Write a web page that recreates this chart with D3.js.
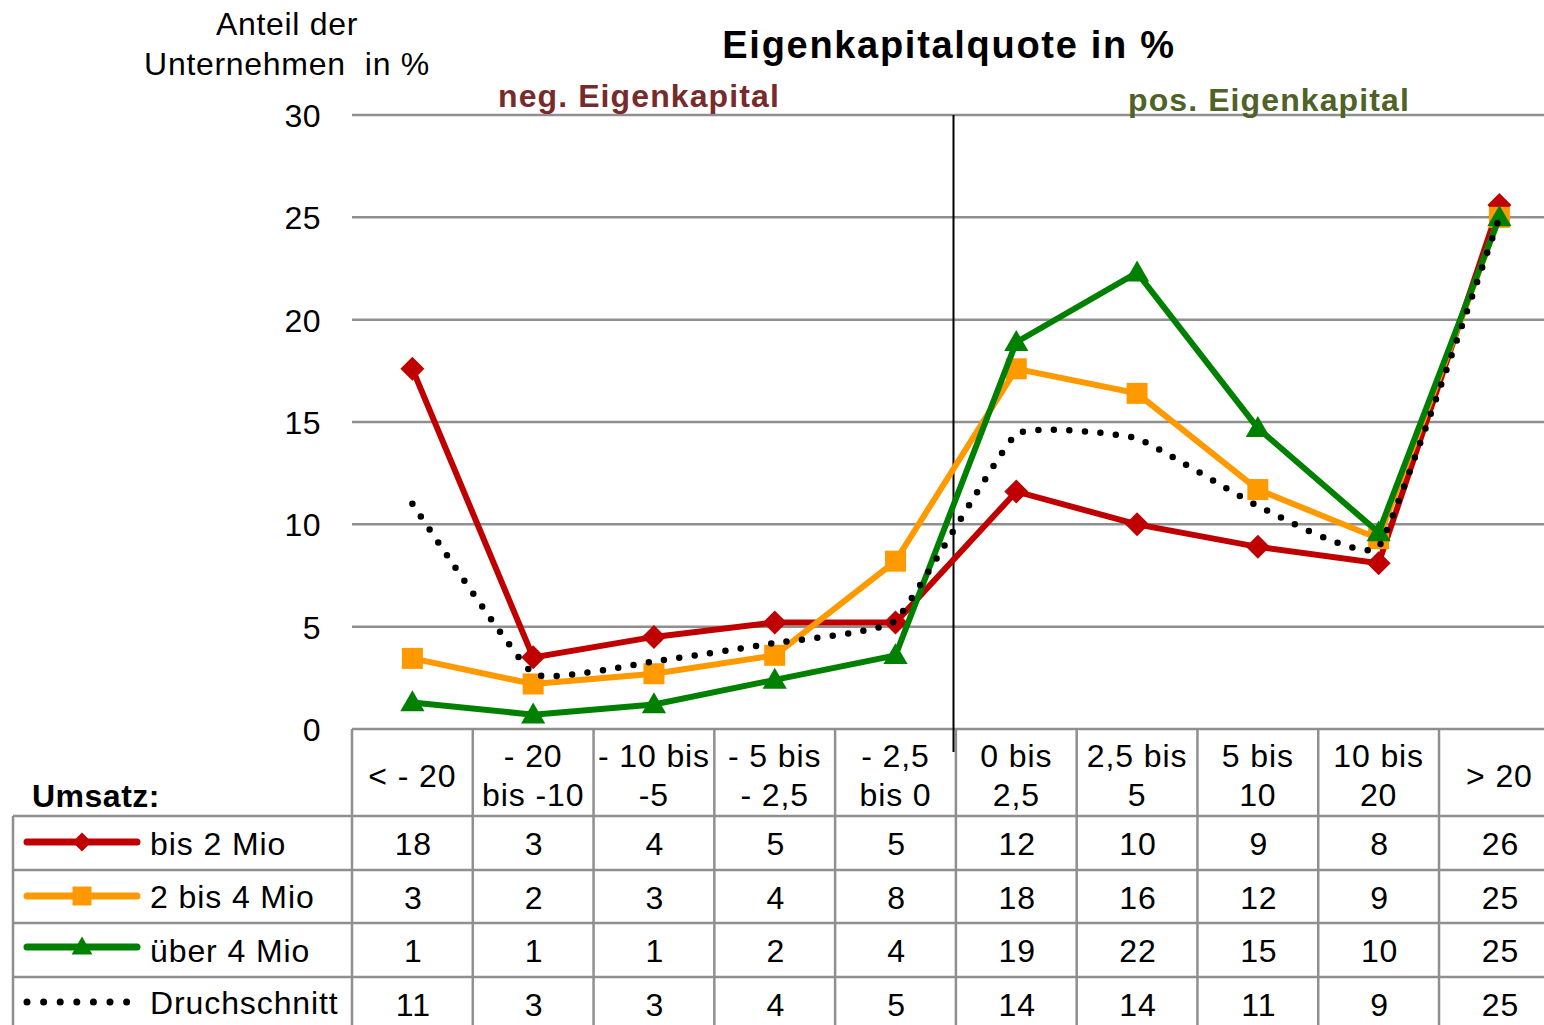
<!DOCTYPE html>
<html><head><meta charset="utf-8">
<script src="https://cdn.jsdelivr.net/npm/d3@7"></script>
<style>
html,body{margin:0;padding:0;background:#fff;overflow:hidden;}
svg{display:block;font-family:"Liberation Sans",Arial,sans-serif;}
</style></head>
<body>
<svg id="chart" width="1544" height="1025"></svg>
<script>
// ---- data ----
const categories = ["< - 20","- 20 bis -10","- 10 bis -5","- 5 bis - 2,5","- 2,5 bis 0","0 bis 2,5","2,5 bis 5","5 bis 10","10 bis 20","> 20"];
const categoryLines = [["< - 20"],["- 20","bis -10"],["- 10 bis","-5"],["- 5 bis","- 2,5"],["- 2,5","bis 0"],["0 bis","2,5"],["2,5 bis","5"],["5 bis","10"],["10 bis","20"],["> 20"]];
const seriesNames = ["bis 2 Mio","2 bis 4 Mio","über 4 Mio","Druchschnitt"];
const bis2 = [17.6, 3.5, 4.5, 5.2, 5.2, 11.6, 10.0, 8.9, 8.1, 25.6];
const bis4 = [3.45, 2.2, 2.7, 3.6, 8.2, 17.6, 16.4, 11.7, 9.3, 25.0];
const ueber4 = [1.3, 0.7, 1.2, 2.4, 3.6, 18.9, 22.3, 14.7, 9.6, 25.0];
const avg = [11.0, 2.7, 3.3, 4.2, 5.3, 14.4, 14.2, 10.9, 8.9, 25.0];
const tableBis2 = ["18","3","4","5","5","12","10","9","8","26"];
const tableBis4 = ["3","2","3","4","8","18","16","12","9","25"];
const tableUeber4 = ["1","1","1","2","4","19","22","15","10","25"];
const tableAvg = ["11","3","3","4","5","14","14","11","9","25"];
const yTicks = [0,5,10,15,20,25,30];
const titleText = "Eigenkapitalquote in %";
const yTitleLines = ["Anteil der","Unternehmen  in %"];
const negLabel = "neg. Eigenkapital";
const posLabel = "pos. Eigenkapital";
const legendTitle = "Umsatz:";

// ---- layout ----
const svg = d3.select("#chart");
const plotLeft = 352, colW = 120.78, plotTop = 115, plotBottom = 729;
const plotRight = plotLeft + colW * categories.length;
const x = d3.scaleBand().domain(categories).range([plotLeft, plotRight]).padding(0);
const cx = c => x(c) + x.bandwidth() / 2;
const y = d3.scaleLinear().domain([0, 30]).range([plotBottom, plotTop]);
const gridCol = "#8f8f8f";
const txt = {size: 32, ls: 0.9};

// gridlines
svg.append("g").selectAll("line").data(yTicks.filter(t => t > 0)).join("line")
  .attr("x1", plotLeft).attr("x2", 1544).attr("y1", d => y(d)).attr("y2", d => y(d))
  .attr("stroke", gridCol).attr("stroke-width", 2.5);

// y axis labels
const yAxis = d3.axisLeft(y).tickValues(yTicks).tickSize(0).tickPadding(0).tickFormat(d3.format("d"));
const yg = svg.append("g").attr("transform", "translate(321,0)").call(yAxis);
yg.select(".domain").remove();
yg.selectAll("text").attr("font-size", txt.size).attr("fill", "#000")
  .attr("font-family", '"Liberation Sans",Arial,sans-serif').attr("dy", "0.36em").attr("letter-spacing", 0.5);

// y title
svg.append("g").selectAll("text").data(yTitleLines).join("text")
  .attr("x", 287).attr("y", (d, i) => 35 + i * 40).attr("text-anchor", "middle")
  .attr("font-size", txt.size).attr("letter-spacing", 0.7).style("white-space", "pre").text(d => d);

// title
svg.append("text").attr("x", 949).attr("y", 58).attr("text-anchor", "middle")
  .attr("font-size", 38).attr("font-weight", "bold").attr("letter-spacing", 1.7).text(titleText);
svg.append("text").attr("x", 498).attr("y", 107).attr("font-size", 32).attr("font-weight", "bold")
  .attr("letter-spacing", 1.1).attr("fill", "#772b2b").text(negLabel);
svg.append("text").attr("x", 1128).attr("y", 111).attr("font-size", 32).attr("font-weight", "bold")
  .attr("letter-spacing", 1.1).attr("fill", "#4f6228").style("white-space", "pre").text(posLabel);

// ---- table ----
const rowTops = [816, 870, 923, 977];
const rowH = 54;
const tg = svg.append("g");
tg.append("line").attr("x1", plotLeft).attr("x2", 1544).attr("y1", plotBottom).attr("y2", plotBottom)
  .attr("stroke", gridCol).attr("stroke-width", 2.5);
tg.selectAll("line.h").data(rowTops).join("line").attr("class", "h")
  .attr("x1", 13).attr("x2", 1544).attr("y1", d => d).attr("y2", d => d)
  .attr("stroke", gridCol).attr("stroke-width", 2.5);
tg.append("line").attr("x1", 13).attr("x2", 13).attr("y1", rowTops[0]).attr("y2", 1025)
  .attr("stroke", gridCol).attr("stroke-width", 2.5);
tg.selectAll("line.v").data(categories).join("line").attr("class", "v")
  .attr("x1", d => x(d)).attr("x2", d => x(d)).attr("y1", plotBottom).attr("y2", 1025)
  .attr("stroke", gridCol).attr("stroke-width", 2.5);
categories.forEach((c, i) => {
  const lines = categoryLines[i];
  const base = lines.length === 1 ? [787] : [767, 806];
  lines.forEach((l, j) => {
    tg.append("text").attr("x", cx(c)).attr("y", base[j]).attr("text-anchor", "middle")
      .attr("font-size", txt.size).attr("letter-spacing", txt.ls).style("white-space", "pre").text(l);
  });
});
svg.append("text").attr("x", 32).attr("y", 807).attr("font-size", 32).attr("font-weight", "bold")
  .attr("letter-spacing", 0.5).text(legendTitle);

const tables = [tableBis2, tableBis4, tableUeber4, tableAvg];
tables.forEach((vals, r) => {
  tg.selectAll(null).data(vals).join("text")
    .attr("x", (d, i) => cx(categories[i]) + 1).attr("y", rowTops[r] + rowH / 2 + 12)
    .attr("text-anchor", "middle").attr("font-size", txt.size).attr("letter-spacing", txt.ls).text(d => d);
});

// vertical divider
svg.append("line").attr("x1", 953.5).attr("x2", 953.5).attr("y1", plotTop).attr("y2", 752)
  .attr("stroke", "#000").attr("stroke-width", 2);

// ---- series ----
const colors = ["#c00000", "#ff9900", "#008000", "#000"];
const seriesData = [bis2, bis4, ueber4];
const markerPath = [
  s => `M0,${-s}L${s},0L0,${s}L${-s},0Z`,
  s => `M${-s},${-s}H${s}V${s}H${-s}Z`,
  s => `M0,${-s * 1.1}L${s * 1.1},${s * 0.8}H${-s * 1.1}Z`
];
const markerSize = [12, 10.5, 11];
const line = d3.line().x((d, i) => cx(categories[i])).y(d => y(d));
seriesData.forEach((vals, k) => {
  const g = svg.append("g");
  g.append("path").datum(vals).attr("d", line).attr("fill", "none")
    .attr("stroke", colors[k]).attr("stroke-width", 6).attr("stroke-linejoin", "miter");
  g.selectAll("path.m").data(vals).join("path").attr("class", "m")
    .attr("transform", (d, i) => `translate(${cx(categories[i])},${y(d)})`)
    .attr("d", markerPath[k](markerSize[k])).attr("fill", colors[k]);
});
const smooth = d3.line().x((d, i) => cx(categories[i])).y(d => y(d)).curve(d3.curveCardinal.tension(0.65));
svg.append("path").datum(avg).attr("d", smooth).attr("fill", "none")
  .attr("stroke", "#000").attr("stroke-width", 6.5).attr("stroke-linecap", "round")
  .attr("stroke-dasharray", "0 15.5");

// ---- legend ----
const lg = svg.append("g");
const legendY = [842, 896, 947, 1002];
const textY = [855, 908, 962, 1014];
seriesNames.forEach((n, k) => {
  if (k < 3) {
    lg.append("line").attr("x1", 27).attr("x2", 137).attr("y1", legendY[k]).attr("y2", legendY[k])
      .attr("stroke", colors[k]).attr("stroke-width", 7).attr("stroke-linecap", "round");
    lg.append("path").attr("transform", `translate(82,${legendY[k]})`)
      .attr("d", markerPath[k](9.5)).attr("fill", colors[k]);
  } else {
    lg.append("line").attr("x1", 27).attr("x2", 127).attr("y1", legendY[k]).attr("y2", legendY[k])
      .attr("stroke", "#000").attr("stroke-width", 7).attr("stroke-linecap", "round")
      .attr("stroke-dasharray", "0 16.6");
  }
  lg.append("text").attr("x", 150).attr("y", textY[k]).attr("font-size", txt.size)
    .attr("letter-spacing", txt.ls).text(n);
});
</script>
</body></html>
